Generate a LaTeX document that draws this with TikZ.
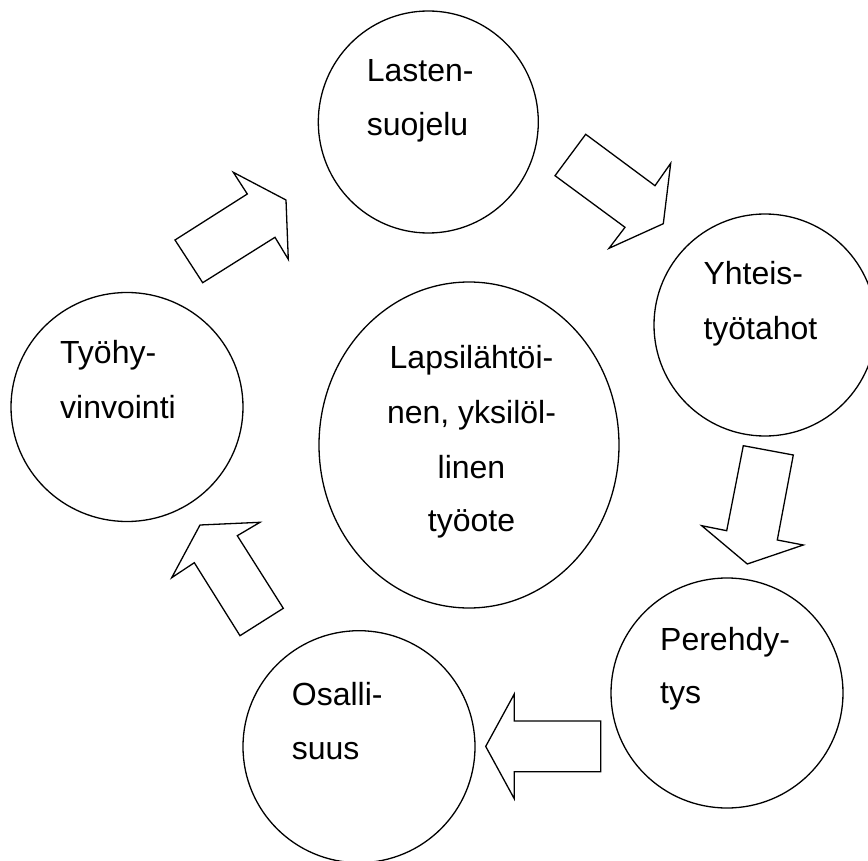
\documentclass[tikz,border=0pt]{standalone}
\usepackage{fontspec}
\setmainfont{Liberation Sans}
\usetikzlibrary{shapes.geometric}
\begin{document}
\begin{tikzpicture}[x=1pt,y=-1pt,
  ring/.style={draw=black, line width=1.3pt, ellipse, inner sep=0pt},
  blockarrow/.style={draw=black, line width=1.3pt, line join=miter, fill=white},
  lbl/.style={inner sep=0pt, font=\fontsize{32}{54.5}\selectfont},
]
\clip (0,0) rectangle (868,861);
\fill[white] (0,0) rectangle (868,861);
% circles
\node[ring, minimum width=220pt, minimum height=222pt] (las) at (428.3,122) {};
\node[ring, minimum width=222pt, minimum height=222pt] (yht) at (765,325) {};
\node[ring, minimum width=300pt, minimum height=326pt] (cen) at (469,445) {};
\node[ring, minimum width=232pt, minimum height=230pt] (per) at (727,693) {};
\node[ring, minimum width=232pt, minimum height=232pt] (osa) at (359,746.7) {};
\node[ring, minimum width=232pt, minimum height=229pt] (tyo) at (127,407) {};
% labels
\node[lbl, anchor=base west] (t1a) at (366.7,81.7) {Lasten-};
\node[lbl, anchor=base west] (t1b) at (366.7,136) {suojelu};
\node[lbl, anchor=base west] (t2a) at (703.3,285) {Yhteis-};
\node[lbl, anchor=base west] (t2b) at (703.3,339.3) {työtahot};
\node[lbl, anchor=base west] (t3a) at (660,650) {Perehdy-};
\node[lbl, anchor=base west] (t3b) at (660,703.3) {tys};
\node[lbl, anchor=base west] (t4a) at (291.7,705) {Osalli-};
\node[lbl, anchor=base west] (t4b) at (291.7,759.3) {suus};
\node[lbl, anchor=base west] (t5a) at (60,363.3) {Työhy-};
\node[lbl, anchor=base west] (t5b) at (60,418.3) {vinvointi};
\node[lbl, anchor=base] (c1) at (471.5,368.3) {Lapsilähtöi-};
\node[lbl, anchor=base] (c2) at (471.5,423.3) {nen, yksilöl-};
\node[lbl, anchor=base] (c3) at (471.5,478.3) {linen};
\node[lbl, anchor=base] (c4) at (471.5,531.7) {työote};
% block arrows
\draw[blockarrow] (175,240) -- (202.7,282.7) -- (275,237.3) -- (288.3,259.3) -- (286,200) -- (233.3,172.3) -- (247.3,194) -- cycle;
\draw[blockarrow] (585.7,134.3) -- (555,175.7) -- (625,227.3) -- (609,248.3) -- (663.3,223.7) -- (670.7,163.3) -- (655,185.7) -- cycle;
\draw[blockarrow] (743.3,445.7) -- (793.3,455) -- (777.3,540) -- (803.3,545) -- (747.3,564) -- (701.7,525.7) -- (726.7,530.7) -- cycle;
\draw[blockarrow] (485.7,746.4) -- (514.3,694) -- (514.3,721) -- (600.7,721) -- (600.7,771.7) -- (514.3,771.7) -- (514.3,798.8) -- cycle;
\draw[blockarrow] (200,525) -- (260,522.3) -- (237.3,535.7) -- (283.3,608.3) -- (240,635.7) -- (194.3,562.7) -- (171.7,577.7) -- cycle;
\end{tikzpicture}
\end{document}
